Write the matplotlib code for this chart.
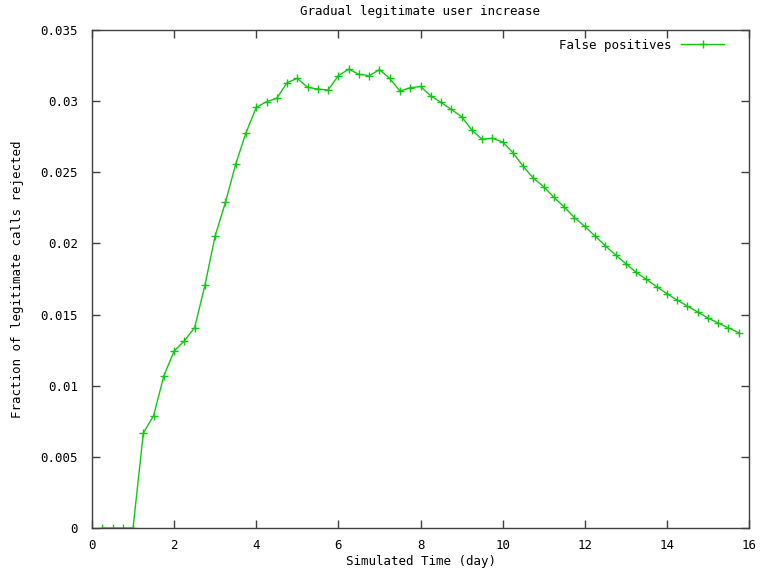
import matplotlib
matplotlib.use("Agg")
import matplotlib.pyplot as plt
import numpy as np

# ---- data ----
days = [0.25 * (i + 1) for i in range(63)]
false_positives = [
    0.0, 0.0, 0.0, 0.0,
    0.00668, 0.00789, 0.0107, 0.01244, 0.01316, 0.01408,
    0.01706, 0.02054, 0.02289, 0.02558, 0.02778, 0.02956,
    0.02996, 0.0302, 0.0313, 0.0316, 0.03097, 0.03085,
    0.03078, 0.03179, 0.03224, 0.03189, 0.03179, 0.03221,
    0.0316, 0.03071, 0.03094, 0.03103, 0.03037, 0.02991,
    0.02942, 0.02891, 0.02797, 0.02732, 0.02739, 0.02713,
    0.02638, 0.02542, 0.02458, 0.02399, 0.02324, 0.02256,
    0.02181, 0.0212, 0.02052, 0.01984, 0.01919, 0.01858,
    0.01797, 0.01748, 0.01696, 0.01647, 0.01602, 0.0156,
    0.01518, 0.01476, 0.01441, 0.01406, 0.01373,
]
xticks = [0, 2, 4, 6, 8, 10, 12, 14, 16]
yticks = [0, 0.005, 0.01, 0.015, 0.02, 0.025, 0.03, 0.035]
ytick_labels = ["0", "0.005", "0.01", "0.015", "0.02", "0.025", "0.03", "0.035"]

title = "Gradual legitimate user increase"
xlabel = "Simulated Time (day)"
ylabel = "Fraction of legitimate calls rejected"
series_label = "False positives"

# ---- style ----
plt.rcParams['font.family'] = ['DejaVu Sans Mono']
fs = 9
green = '#11c811'
axis_col = '#404040'

fig = plt.figure(figsize=(7.63, 5.71), dpi=100)
ax = fig.add_axes([92 / 763, 1 - 528 / 571, (749 - 92) / 763, (528 - 30) / 571])

ax.plot(days, false_positives, color=green, lw=1.0, marker='+', ms=5.5,
        mew=1.0, label=series_label)

ax.set_xlim(0, 16)
ax.set_ylim(0, 0.035)
ax.set_xticks(xticks)
ax.set_xticklabels([str(t) for t in xticks])
ax.set_yticks(yticks)
ax.set_yticklabels(ytick_labels)

ax.tick_params(direction='in', length=6, width=1, colors=axis_col,
               labelcolor='black', labelsize=fs, top=True, right=True)
ax.tick_params(axis='x', pad=8)
ax.tick_params(axis='y', pad=10)
for s in ax.spines.values():
    s.set_color(axis_col)
    s.set_linewidth(1.0)

ax.set_title(title, fontsize=fs, pad=11)
ax.set_xlabel(xlabel, fontsize=fs, labelpad=2)
ax.set_ylabel(ylabel, fontsize=fs, labelpad=12)

leg = ax.legend(loc='upper right', frameon=False, fontsize=fs,
                markerfirst=False, handlelength=3.4, handletextpad=0.8,
                borderaxespad=0.3, bbox_to_anchor=(0.975, 1.0))

fig.savefig("out.png", dpi=100)
